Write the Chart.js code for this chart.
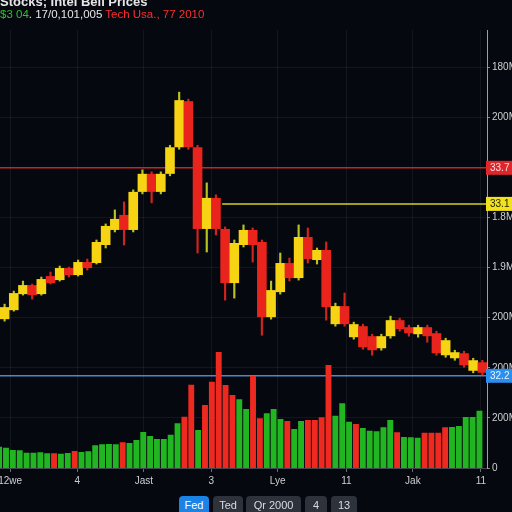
<!DOCTYPE html>
<html>
<head>
<meta charset="utf-8">
<script src="https://cdn.jsdelivr.net/npm/chart.js@4.4.0/dist/chart.umd.min.js"></script>
<style>
  html, body { margin: 0; padding: 0; background: #05080f; }
  #wrap { position: relative; width: 512px; height: 512px; overflow: hidden; font-family: "Liberation Sans", Arial, sans-serif; }
  #stockCanvas { position: absolute; left: 0; top: 0; }
  .head { position: absolute; left: 0; white-space: nowrap; font-size: 11.5px; }
  #line1 { top: -6px; color: #e6e6e6; font-size: 13px; font-weight: bold; }
  #line2 { top: 8px; color: #e6e6e6; }
  .green { color: #2fc02f; }
  .red { color: #ff2f2f; }
  .btn { position: absolute; top: 496px; height: 20px; line-height: 18px; border-radius: 4px; background: #2d323b; color: #d8dce2; font-size: 11px; text-align: center; }
  .btn.on { background: #1b82e6; color: #ffffff; }
</style>
</head>
<body>
<div id="wrap">
  <canvas id="stockCanvas" width="512" height="512"></canvas>
  <div class="head" id="line1">Stocks; Intel Bell Prices</div>
  <div class="head" id="line2"><span class="green">$3 04</span>. 17/0,101,005 <span class="red">Tech Usa., 77 2010</span></div>
  <div class="btn on" style="left:179px;width:30px;">Fed</div>
  <div class="btn" style="left:213px;width:30px;">Ted</div>
  <div class="btn" style="left:246px;width:55px;">Qr 2000</div>
  <div class="btn" style="left:305px;width:22px;">4</div>
  <div class="btn" style="left:331px;width:26px;">13</div>
</div>
<script>
// candles (price units)
const candleOpen  = [29.7,31.5,34.7,36.5,34.7,38.3,37.5,39.9,38.5,41.1,40.9,44.5,47.5,50.5,47.5,55.1,58.7,55.1,58.7,64.0,73.2,64.0,47.7,53.9,47.7,36.9,44.5,47.5,45.1,30.1,35.1,40.9,37.9,46.1,41.5,43.5,28.7,32.3,26.1,28.3,26.3,23.9,26.3,29.5,28.1,26.7,28.1,26.9,22.5,21.9,22.9,19.4,21.1];
const candleClose = [32.1,34.9,36.5,34.5,37.7,36.9,39.9,38.5,41.1,39.9,45.1,48.3,49.7,47.5,55.1,58.7,55.1,58.7,64.0,73.4,64.0,47.7,53.9,47.7,36.9,44.9,47.5,44.5,30.1,35.5,40.9,37.9,46.1,41.7,43.5,32.1,32.3,28.7,28.7,24.1,23.5,26.3,29.5,27.7,26.9,28.1,26.3,22.9,25.5,23.1,20.5,21.5,19.0];
const candleHigh  = [32.7,35.3,37.3,36.7,38.1,39.1,40.3,40.1,41.5,41.7,45.5,48.7,51.5,53.1,55.5,59.5,59.1,59.1,64.4,75.0,73.6,64.4,56.9,54.5,48.1,45.5,48.5,47.9,45.5,37.3,42.9,41.9,48.5,47.9,43.9,45.1,32.9,34.9,29.1,28.7,26.7,26.7,30.3,29.9,28.5,28.5,28.5,27.3,25.9,23.5,23.3,21.9,21.5];
const candleLow   = [29.3,31.3,34.5,33.7,34.5,36.7,37.3,38.1,38.3,39.5,40.7,43.9,47.1,44.5,47.1,54.7,52.9,54.7,58.3,63.6,63.6,42.9,43.1,46.5,33.5,33.9,44.1,41.1,26.5,29.7,34.7,37.3,37.5,40.9,40.7,29.5,28.3,28.3,25.7,23.7,22.5,23.5,25.9,27.3,26.3,26.1,25.1,22.5,22.1,21.5,20.1,19.0,18.6];

// volume (M) and its colour flag
const volumes   = [85,81,72,71,61,61,63,59,59,57,60,68,64,67,91,95,96,95,103,100,112,144,128,116,116,133,179,205,333,152,252,345,464,332,292,275,236,368,199,219,236,196,188,156,188,192,192,203,412,209,259,185,176,160,149,147,163,192,143,124,123,121,141,141,141,163,164,168,204,204,229];
const volumeDir = ['g','g','g','g','g','g','g','g','r','g','g','r','g','g','g','g','g','g','r','g','g','g','g','g','g','g','g','r','r','g','r','r','r','r','r','g','g','r','r','g','g','g','r','g','g','r','r','r','r','g','g','g','r','g','g','g','g','g','r','g','g','g','r','r','r','r','g','g','g','g','g'];

// price levels
const levelValues = [59.9, 52.7, 18.4];
const levelStart  = [-1, 32.5, -1];
const levelLabels = ['33.7', '33.1', '32.2'];

// axis ticks
const xTickPos    = [1.6, 11.4, 21.1, 30.9, 40.6, 50.6, 60.3, 70.2];
const xTickLabels = ['12we', '4', 'Jast', '3', 'Lye', '11', 'Jak', '11'];
const yTickVals   = [0, 10, 20, 30, 40, 50, 60, 70, 80];
const yTickLabels = ['0', '200M', '200M', '200M', '1.9M', '1.8M', '190M', '200M', '180M'];

const YELLOW = '#f6d414', RED = '#e8241d', GREEN = '#21b521', VRED = '#ee2a20';
const levelColors = ['#cc2222', '#d6d21c', '#4d86cf'];
const pillColors  = ['#e0262a', '#f2e21e', '#2b8ff0'];
const pillText    = ['#ffe0e0', '#202000', '#e8f4ff'];

const up = candleOpen.map((o, i) => candleClose[i] >= o);

const pillPlugin = {
    id: 'pills',
    afterDraw(chart) {
        const ctx = chart.ctx;
        const ys = chart.scales.y;
        const right = chart.chartArea.right;
        ctx.save();
        ctx.font = '10px "Liberation Sans", sans-serif';
        ctx.textBaseline = 'middle';
        levelValues.forEach((v, i) => {
            const py = ys.getPixelForValue(v);
            ctx.fillStyle = pillColors[i];
            ctx.fillRect(right - 1, py - 7, 30, 14);
            ctx.fillStyle = pillText[i];
            ctx.fillText(levelLabels[i], right + 3, py + 0.5);
        });
        ctx.restore();
    }
};

const ctx = document.getElementById('stockCanvas').getContext('2d');
new Chart(ctx, {
    type: 'bar',
    data: {
        datasets: [
            {
                type: 'bar',
                data: candleOpen.map((o, i) => [o, candleClose[i]]),
                xAxisID: 'xc', yAxisID: 'y',
                backgroundColor: up.map(u => u ? YELLOW : RED),
                barPercentage: 1.05, categoryPercentage: 1, grouped: false,
                order: 1
            },
            {
                type: 'bar',
                data: candleLow.map((l, i) => [l, candleHigh[i]]),
                xAxisID: 'xc', yAxisID: 'y',
                backgroundColor: up.map(u => u ? '#b9c422' : '#d3231d'),
                barThickness: 1.5, grouped: false,
                order: 2
            },
            {
                type: 'bar',
                data: volumes.map((v, i) => ({ x: i, y: v })),
                xAxisID: 'x', yAxisID: 'yv',
                backgroundColor: volumeDir.map(d => d === 'r' ? VRED : GREEN),
                barPercentage: 0.86, categoryPercentage: 1, grouped: false,
                order: 3
            },
            ...levelValues.map((v, i) => ({
                type: 'line',
                data: [{ x: levelStart[i], y: v }, { x: 80, y: v }],
                xAxisID: 'x', yAxisID: 'y',
                borderColor: levelColors[i],
                borderWidth: 1.5,
                pointRadius: 0,
                order: 4
            }))
        ]
    },
    options: {
        responsive: false,
        animation: false,
        layout: { padding: { top: 30, left: 0, right: 0, bottom: 0 } },
        plugins: { legend: { display: false }, tooltip: { enabled: false } },
        scales: {
            x: {
                type: 'linear', min: 0.125, max: 71.1, position: 'bottom', offset: false,
                grid: { offset: false, color: 'rgba(255,255,255,0.06)', tickLength: 4, tickColor: 'rgba(255,255,255,0.4)' },
                border: { color: 'rgba(255,255,255,0.2)' },
                ticks: {
                    color: '#d0d0d0', font: { size: 10, family: 'Liberation Sans' }, padding: 3,
                    maxRotation: 0, autoSkip: false,
                    callback: (v, i) => xTickLabels[i]
                },
                afterBuildTicks: s => { s.ticks = xTickPos.map(v => ({ value: v })); },
                afterFit: s => { s.height = 44; s.paddingLeft = 0; s.paddingRight = 0; }
            },
            xc: {
                type: 'category', display: false, offset: true,
                labels: candleOpen.map((_, i) => String(i))
            },
            y: {
                position: 'right', min: 0, max: 87.4,
                grid: { color: 'rgba(255,255,255,0.06)', tickLength: 3, tickColor: 'rgba(255,255,255,0.5)' },
                border: { color: '#9aa0aa' },
                ticks: {
                    color: '#d0d0d0', font: { size: 10, family: 'Liberation Sans' }, padding: 2,
                    callback: (v, i) => yTickLabels[i]
                },
                afterBuildTicks: s => { s.ticks = yTickVals.map(v => ({ value: v })); },
                afterFit: s => { s.width = 25; s.paddingTop = 0; s.paddingBottom = 0; }
            },
            yv: { display: false, min: 0, max: 1752 }
        }
    },
    plugins: [pillPlugin]
});
</script>
</body>
</html>
